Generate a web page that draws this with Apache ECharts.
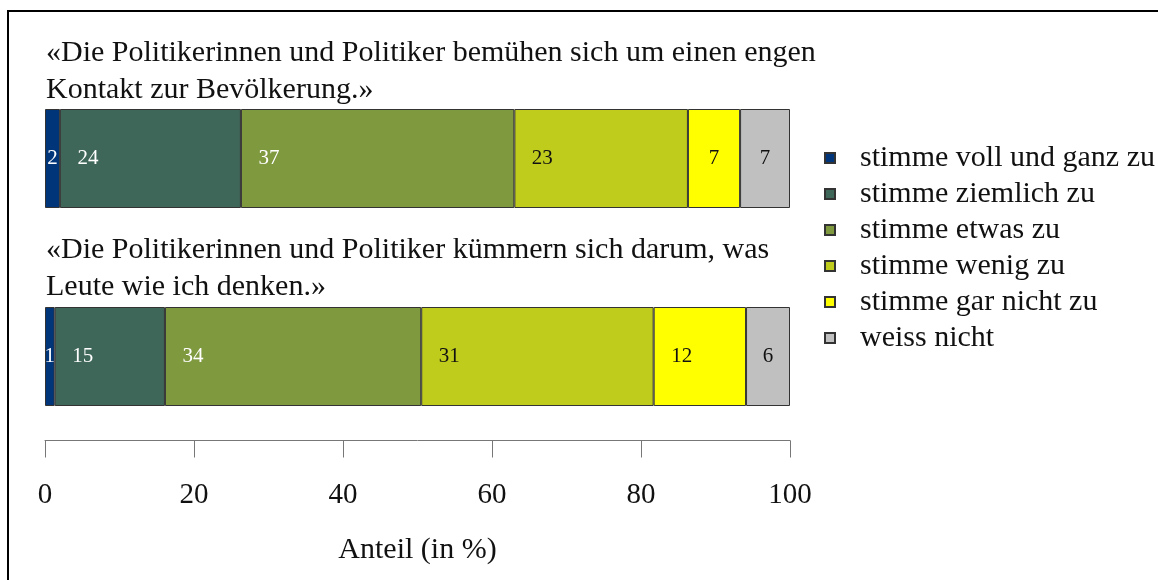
<!DOCTYPE html>
<html>
<head>
<meta charset="utf-8">
<script src="https://cdn.jsdelivr.net/npm/echarts@6/dist/echarts.min.js"></script>
<style>
  html, body { margin: 0; padding: 0; background: #fff; }
  #chart { width: 1158px; height: 580px; }
</style>
</head>
<body>
<div id="chart"></div>
<script>
// statements shown as titles above each bar
const categories = ['Kontakt', 'Leute wie ich'];
const questions = [
    '«Die Politikerinnen und Politiker bemühen sich um einen engen\nKontakt zur Bevölkerung.»',
    '«Die Politikerinnen und Politiker kümmern sich darum, was\nLeute wie ich denken.»'
];
const responses = ['stimme voll und ganz zu', 'stimme ziemlich zu', 'stimme etwas zu',
    'stimme wenig zu', 'stimme gar nicht zu', 'weiss nicht'];
// shares in % (labels are rounded)
const contact = [2.0, 24.3, 36.7, 23.3, 7.0, 6.7];
const people = [1.3, 14.8, 34.4, 31.2, 12.4, 5.9];
const ticks = [0, 20, 40, 60, 80, 100];

const colors = ['#00357a', '#3f6759', '#7f993f', '#c0cc1c', '#ffff00', '#c0c0c0'];
const labelColors = ['#fff', '#fff', '#fff', '#111', '#111', '#111'];
const serif = '"Liberation Serif", "DejaVu Serif", serif';
const plotW = 745; // grid width in px, used to decide label placement

const chart = echarts.init(document.getElementById('chart'));

const series = responses.map((name, i) => ({
    name: name,
    type: 'bar',
    stack: 'total',
    barWidth: 99,
    itemStyle: { color: colors[i], borderColor: '#333', borderWidth: 1 },
    label: {
        show: true,
        color: labelColors[i],
        fontFamily: serif,
        fontSize: 21,
        align: 'center',
        verticalAlign: 'middle',
        formatter: p => Math.round(p.value)
    },
    data: [contact[i], people[i]].map(v => {
        const w = v * plotW / 100;
        return { value: v, label: { position: w / 2 < 27 ? ['50%', '50%'] : [28, '50%'] } };
    })
}));

chart.setOption({
    animation: false,
    title: questions.map((q, i) => ({
        text: q,
        left: 46,
        top: i === 0 ? 35 : 232,
        padding: 0,
        textStyle: { fontFamily: serif, fontSize: 30, fontWeight: 'normal', color: '#111', lineHeight: 37 }
    })),
    legend: {
        orient: 'vertical',
        left: 824,
        top: 143,
        padding: 0,
        itemGap: 6,
        itemWidth: 10,
        itemHeight: 10,
        icon: 'rect',
        data: responses,
        textStyle: { fontFamily: serif, fontSize: 30, color: '#111', lineHeight: 30, padding: [0, 0, 0, 20] }
    },
    grid: { left: 45, right: 368, top: 59.5, bottom: 124.5 },
    xAxis: {
        type: 'value',
        min: 0,
        max: 100,
        interval: 20,
        offset: -15,
        splitLine: { show: false },
        axisLine: { show: true, lineStyle: { color: '#777', width: 1 } },
        axisTick: { show: true, length: 17, lineStyle: { color: '#777' } },
        axisLabel: {
            margin: 40, fontFamily: serif, fontSize: 29, color: '#111',
            formatter: v => ticks.includes(v) ? String(v) : ''
        },
        name: 'Anteil (in %)',
        nameLocation: 'middle',
        nameGap: 95,
        nameTextStyle: { fontFamily: serif, fontSize: 30, color: '#111' }
    },
    yAxis: {
        type: 'category',
        data: categories,
        inverse: true,
        show: false
    },
    graphic: [{
        type: 'rect',
        shape: { x: 8, y: 11, width: 1300, height: 800 },
        style: { fill: 'none', stroke: '#000', lineWidth: 2 },
        silent: true
    }],
    series: series
});
</script>
</body>
</html>
